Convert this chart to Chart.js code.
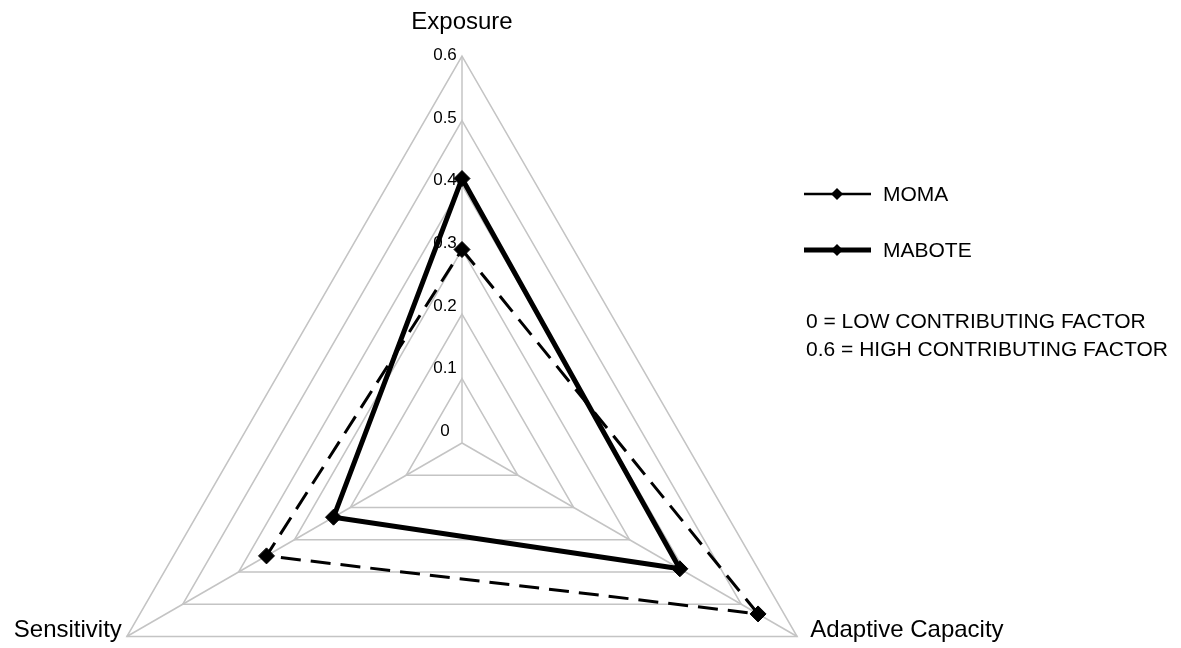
<!DOCTYPE html>
<html>
<head>
<meta charset="utf-8">
<title>Vulnerability radar</title>
<script src="https://cdn.jsdelivr.net/npm/chart.js@4.4.1/dist/chart.umd.min.js"></script>
<style>
  html, body { margin: 0; padding: 0; background: #fff; }
  #wrap { position: relative; width: 1181px; height: 648px; }
</style>
</head>
<body>
<div id="wrap"><canvas id="radarChart"></canvas></div>
<script>
const categories = ['Exposure', 'Adaptive Capacity', 'Sensitivity'];
const seriesNames = ['MOMA', 'MABOTE'];
const momaValues = [0.30, 0.53, 0.35];
const maboteValues = [0.41, 0.39, 0.23];
const tickValues = [0, 0.1, 0.2, 0.3, 0.4, 0.5, 0.6];
const noteLines = ['0 = LOW CONTRIBUTING FACTOR', '0.6 = HIGH CONTRIBUTING FACTOR'];

const FONT = '"Liberation Sans", Arial, Helvetica, sans-serif';
const GRID = '#c4c4c4';

/* tick labels sit left of the vertical axis, under the lines */
const tickLabelPlugin = {
  id: 'tickLabels',
  beforeDatasetsDraw(chart) {
    const scale = chart.scales.r;
    const ctx = chart.ctx;
    ctx.save();
    ctx.font = '17px ' + FONT;
    ctx.fillStyle = '#000';
    ctx.textAlign = 'center';
    ctx.textBaseline = 'middle';
    tickValues.forEach(v => {
      const d = scale.getDistanceFromCenterForValue(v);
      ctx.fillText(String(v), scale.xCenter - 17, scale.yCenter - d * 0.97 - 12);
    });
    ctx.restore();
  }
};

/* axis names, legend and the note text */
const labelsPlugin = {
  id: 'extraLabels',
  afterDraw(chart) {
    const scale = chart.scales.r;
    const ctx = chart.ctx;
    ctx.save();
    ctx.fillStyle = '#000';
    ctx.font = '24px ' + FONT;
    ctx.textBaseline = 'alphabetic';
    categories.forEach((name, i) => {
      const p = scale.getPointPosition(i, scale.drawingArea);
      if (Math.abs(p.x - scale.xCenter) < 1) {
        ctx.textAlign = 'center';
        ctx.fillText(name, p.x, p.y - 27);
      } else if (p.x > scale.xCenter) {
        ctx.textAlign = 'left';
        ctx.fillText(name, p.x + 13, p.y);
      } else {
        ctx.textAlign = 'right';
        ctx.fillText(name, p.x - 5, p.y);
      }
    });

    // legend
    const rows = [194, 250];
    const widths = [2.5, 5];
    chart.data.datasets.forEach((ds, i) => {
      const y = rows[i];
      ctx.strokeStyle = '#000';
      ctx.lineWidth = widths[i];
      ctx.beginPath();
      ctx.moveTo(804, y);
      ctx.lineTo(871, y);
      ctx.stroke();
      ctx.fillStyle = '#000';
      ctx.beginPath();
      ctx.moveTo(837, y - 6);
      ctx.lineTo(843, y);
      ctx.lineTo(837, y + 6);
      ctx.lineTo(831, y);
      ctx.closePath();
      ctx.fill();
      ctx.font = '21px ' + FONT;
      ctx.textAlign = 'left';
      ctx.textBaseline = 'middle';
      ctx.fillText(ds.label, 883, y + 1);
    });

    ctx.font = '21px ' + FONT;
    ctx.textBaseline = 'alphabetic';
    noteLines.forEach((line, i) => {
      ctx.fillText(line, 806, 328 + i * 28);
    });
    ctx.restore();
  }
};

const ctx = document.getElementById('radarChart').getContext('2d');

const radarChart = new Chart(ctx, {
  type: 'radar',
  data: {
    labels: categories,
    datasets: [
      {
        label: seriesNames[0],
        data: momaValues,
        borderColor: '#000',
        backgroundColor: 'transparent',
        borderWidth: 3,
        borderDash: [20, 10],
        fill: false,
        pointStyle: 'rectRot',
        pointRadius: 8,
        pointBorderWidth: 1,
        pointBackgroundColor: '#000',
        pointBorderColor: '#000'
      },
      {
        label: seriesNames[1],
        data: maboteValues,
        borderColor: '#000',
        backgroundColor: 'transparent',
        borderWidth: 5,
        fill: false,
        pointStyle: 'rectRot',
        pointRadius: 8,
        pointBorderWidth: 1,
        pointBackgroundColor: '#000',
        pointBorderColor: '#000'
      }
    ]
  },
  options: {
    responsive: true,
    maintainAspectRatio: false,
    animation: false,
    plugins: {
      legend: { display: false },
      tooltip: { enabled: false }
    },
    scales: {
      r: {
        min: 0,
        max: 0.6,
        ticks: { stepSize: 0.1, display: false },
        grid: { circular: false, color: GRID, lineWidth: 1.5 },
        angleLines: { color: GRID, lineWidth: 1.5 },
        pointLabels: { display: false },
        afterFit(scale) {
          // place the triangle like the original figure
          scale.xCenter = 462;
          scale.yCenter = 443;
          scale.drawingArea = 387;
        }
      }
    }
  },
  plugins: [tickLabelPlugin, labelsPlugin]
});
</script>
</body>
</html>
